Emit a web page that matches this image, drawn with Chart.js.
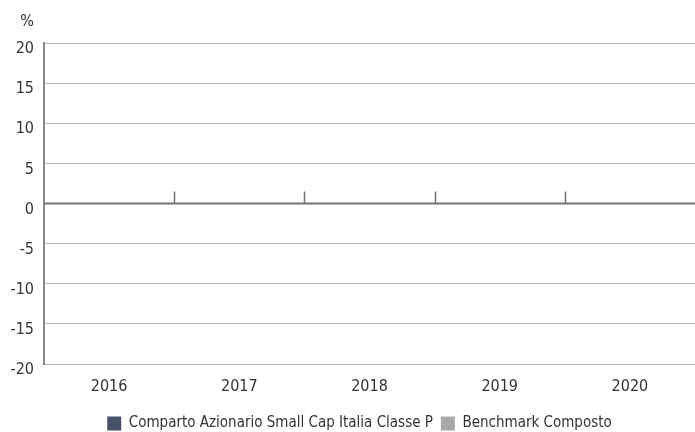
<!DOCTYPE html>
<html>
<head>
<meta charset="utf-8">
<script src="https://cdn.jsdelivr.net/npm/chart.js@4"></script>
<style>
  html, body { margin: 0; padding: 0; background: #ffffff; }
  #wrap { width: 695px; height: 432px; position: relative; }
</style>
</head>
<body>
<div id="wrap"><canvas id="c" width="695" height="432"></canvas></div>
<script>
const categories = ['2016', '2017', '2018', '2019', '2020'];
const fundValues = [null, null, null, null, null];
const benchmarkValues = [null, null, null, null, null];
const seriesNames = ['Comparto Azionario Small Cap Italia Classe P', 'Benchmark Composto'];
const yMin = -20, yMax = 20, yStep = 5;
const unitLabel = '%';

const FONT = "'Liberation Sans Narrow', 'DejaVu Sans Condensed', sans-serif";

const extras = {
  id: 'extras',
  afterLayout(chart) {
    if (chart.legend) {
      chart.legend.left += 12;
      chart.legend.right += 12;
    }
  },
  afterDraw(chart) {
    const { ctx, scales: { x, y } } = chart;
    const y0 = y.getPixelForValue(0);
    ctx.save();
    // zero line
    ctx.strokeStyle = '#737373';
    ctx.lineWidth = 2;
    ctx.beginPath();
    ctx.moveTo(chart.chartArea.left, y0);
    ctx.lineTo(chart.chartArea.right, y0);
    ctx.stroke();
    // category separator ticks
    ctx.lineWidth = 1.5;
    for (let i = 0; i < categories.length - 1; i++) {
      const xm = (x.getPixelForValue(i) + x.getPixelForValue(i + 1)) / 2;
      ctx.beginPath();
      ctx.moveTo(Math.round(xm) + 0.5, y0);
      ctx.lineTo(Math.round(xm) + 0.5, y0 - 12);
      ctx.stroke();
    }
    // unit label
    ctx.fillStyle = '#333333';
    ctx.font = '16px ' + FONT;
    ctx.textAlign = 'right';
    ctx.textBaseline = 'middle';
    ctx.fillText(unitLabel, chart.chartArea.left - 10, 22);
    ctx.restore();
  }
};

new Chart(document.getElementById('c'), {
  type: 'bar',
  data: {
    labels: categories,
    datasets: [
      { label: seriesNames[0], data: fundValues, backgroundColor: '#475268' },
      { label: seriesNames[1], data: benchmarkValues, backgroundColor: '#a8a8aa' }
    ]
  },
  options: {
    responsive: false,
    animation: false,
    layout: { padding: { top: 43, right: 0, left: 0, bottom: -9 } },
    plugins: {
      tooltip: { enabled: false },
      legend: {
        position: 'bottom',
        labels: {
          boxWidth: 14, boxHeight: 14, padding: 8,
          color: '#333333',
          font: { family: FONT, size: 15 }
        }
      }
    },
    scales: {
      x: {
        grid: { display: false },
        border: { display: false },
        ticks: { color: '#333333', font: { family: FONT, size: 16 }, padding: 5 },
        afterFit(s) { s.height = 44; }
      },
      y: {
        min: yMin, max: yMax,
        ticks: { stepSize: yStep, color: '#333333', font: { family: FONT, size: 16 }, padding: 10, labelOffset: 6 },
        grid: { color: '#b3b3b3', lineWidth: 1, drawTicks: false },
        border: { display: true, color: '#8a8a8a', width: 2 },
        afterFit(s) { s.width = 44; }
      }
    }
  },
  plugins: [extras]
});
</script>
</body>
</html>
